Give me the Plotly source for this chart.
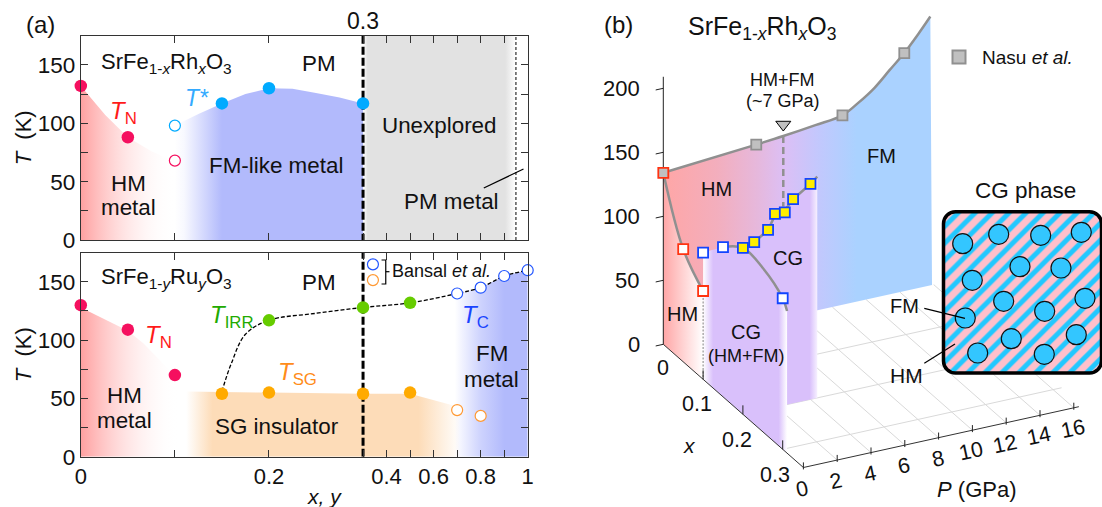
import plotly.graph_objects as go

W, H = 1102, 507
FONT = "Liberation Sans"

# ---------- panel (a) data ----------
rh_tn_x = [0, 0.05]; rh_tn_t = [132, 88]
rh_tn_open_x = [0.1]; rh_tn_open_t = [68]
rh_ts_open_x = [0.1]; rh_ts_open_t = [98]
rh_ts_x = [0.15, 0.2, 0.3]; rh_ts_t = [117, 130, 117]
rh_hm_x = [0, 0.026, 0.05, 0.075, 0.1]; rh_hm_t = [132, 107, 88, 76, 67]
rh_fm_x = [0.1, 0.125, 0.15, 0.175, 0.2, 0.225, 0.25, 0.275, 0.3]
rh_fm_t = [98, 108, 117, 125, 130, 129.5, 126, 122, 117]

ru_tn_x = [0, 0.05, 0.1]; ru_tn_t = [130, 109, 70]
ru_hm_x = [0, 0.05, 0.067, 0.097, 0.112]; ru_hm_t = [128, 108, 97, 72, 56]
ru_sg_x = [0.112, 0.2, 0.3, 0.5, 0.535, 0.7, 0.75]; ru_sg_t = [56, 55, 54, 54, 52, 43, 40]
ru_fm_x = [0.69, 0.7, 0.8, 0.85, 0.9, 1.0]; ru_fm_t = [139, 140, 145, 150, 155, 160]
ru_irr_x = [0.2, 0.3, 0.5]; ru_irr_t = [117, 128, 132]
ru_tsg_x = [0.15, 0.2, 0.3, 0.5]; ru_tsg_t = [54, 55, 54, 55]
ru_tsg_open_x = [0.7, 0.8]; ru_tsg_open_t = [40, 35]
ru_tc_x = [0.7, 0.8, 0.9, 1.0]; ru_tc_t = [140, 145, 155, 160]
bansal_x = [0.342, 0.342]; bansal_t = [165, 151.5]
ru_dash_x = [0.15, 0.16, 0.175, 0.2, 0.25, 0.3, 0.5, 0.7, 0.8, 0.85, 0.9, 1.0]
ru_dash_t = [56, 80, 105, 117, 123, 128, 132, 140, 145, 150, 155, 160]

x_ticks = [0, 0.1, 0.2, 0.3, 0.4, 0.5, 0.6, 0.7, 0.8, 0.9, 1.0]
x_labels = ["0", "", "0.2", "", "0.4", "", "0.6", "", "0.8", "", "1"]
t_ticks = [0, 25, 50, 75, 100, 125, 150, 175]
t_labels = ["0", "", "50", "", "100", "", "150", ""]

# ---------- panel (b) data ----------
nasu_p = [5.5, 10.6, 14.26]; nasu_t = [140, 148, 186]
top_p = [0, 5.5, 7.1, 9, 10.6, 11.5, 12.5, 13.4, 14.26, 15.05, 15.8]
top_t = [134, 140, 142, 145, 148, 154.7, 164, 175.3, 186, 197.8, 210]
hm_x = [0, 0.05, 0.1]; hm_t = [134, 88, 69]
cg_x = [0.1, 0.15, 0.2, 0.3]; cg_t = [99, 117, 130, 118]
cg_edge_x = [0.1, 0.15, 0.2, 0.25, 0.3, 0.311]; cg_edge_t = [99, 117, 130, 128, 118, 111]
y_p = [0, 0.67, 1.49, 1.9, 2.48, 2.97, 4.0]; y_t = [130, 132.5, 139.7, 151, 150.5, 159.4, 168.3]
y_edge_p = [0, 0.67, 1.49, 1.9, 2.48, 2.97, 4.0, 4.4]; y_edge_t = [130, 132.5, 139.7, 150, 152, 159.4, 168.3, 172.8]
p_ticks = [0, 2, 4, 6, 8, 10, 12, 14, 16]
xb_ticks = [0, 0.1, 0.2, 0.3]
tb_ticks = [0, 50, 100, 150, 200]
cells_x = [962.7, 998.7, 1040.7, 1081.3, 1020, 1061, 972.3, 1003.7, 1085, 1044.7, 965.3, 1076.3, 1011.3, 977.7, 1044.3]
cells_y = [243.7, 234.3, 235.3, 232.3, 266.7, 268, 280.3, 301.3, 298.3, 311.3, 318, 334.7, 338.7, 353, 354.3]


def p(x):
    """Position on the broken composition axis: 0.3-1 is compressed four times."""
    return x if x <= 0.3 else 0.3 + (x - 0.3) / 4


def P(v):
    return [p(a) for a in v]


def XA(v):
    return v * 1.054


def px(Pv, x):
    return 663.3 + Pv * 16.9 + x * 398


def py(Pv, x, T):
    return 344.3 - Pv * 3.73 + x * 350 - T * 1.28


fig = go.Figure()
A = dict(xaxis="x", yaxis="y")
B = dict(xaxis="x2", yaxis="y2")
C = dict(xaxis="x3", yaxis="y3")
D = dict(xaxis="x4", yaxis="y4")


def grad(stops):
    return dict(type="horizontal", colorscale=stops)


def fill(xs, ys, stops, ax):
    fig.add_trace(go.Scatter(x=xs, y=ys, mode="none", fill="toself", hoverinfo="skip",
                             fillgradient=grad(stops), showlegend=False, **ax))


def line(xs, ys, ax, color="#000", width=1, dash=None, shape="linear", clip=True):
    fig.add_trace(go.Scatter(x=xs, y=ys, mode="lines", showlegend=False, hoverinfo="skip",
                             line=dict(color=color, width=width, dash=dash, shape=shape),
                             cliponaxis=clip, **ax))


def pts(xs, ys, ax, color, lc=None, size=12.5, lw=0, sym="circle"):
    fig.add_trace(go.Scatter(x=xs, y=ys, mode="markers", showlegend=False, cliponaxis=False,
                             marker=dict(size=size, color=color, symbol=sym,
                                         line=dict(color=lc or color, width=lw)), **ax))


RED0 = "rgba(255,160,160,1)"
BLUE = "rgba(178,186,252,1)"
BLUE0 = "rgba(178,186,252,0)"
GRAY = "rgba(226,226,226,1)"
GRAY0 = "rgba(226,226,226,0)"
ORG = "rgba(253,220,184,1)"
ORG0 = "rgba(253,220,184,0)"
PINK = "#f5105f"
SKY = "#00aaff"
GREEN = "#66cc00"
AMBER = "#ffaa00"
BL = "#2255ff"
OR2 = "#ff9933"

# --- top panel
fill(rh_hm_x + [0.1, 0], rh_hm_t + [0, 0],
     [[0, RED0], [1, "rgba(255,255,255,0)"]], A)
fill(P(rh_fm_x) + [0.3, 0.1], rh_fm_t + [0, 0],
     [[0, BLUE0], [0.05, "rgba(178,186,252,.1)"], [0.25, BLUE], [1, BLUE]], A)
fill([0.3, p(0.95), p(0.95), 0.3], [0, 0, 175, 175],
     [[0, GRAY0], [0.03, GRAY], [0.93, GRAY], [1, GRAY0]], A)
line([p(0.95), p(0.95)], [0, 175], A, width=1, dash="3px,2px")
line([0.3, 0.3], [-11, 175], A, width=3, dash="8px,3px", clip=False)
pts(rh_tn_x, rh_tn_t, A, PINK)
pts(rh_tn_open_x, rh_tn_open_t, A, "white", PINK, 11, 1.2)
pts(rh_ts_open_x, rh_ts_open_t, A, "white", SKY, 11, 1.2)
pts(rh_ts_x, rh_ts_t, A, SKY)

# --- bottom panel
fill(ru_hm_x + [0.112, 0], ru_hm_t + [0, 0],
     [[0, RED0], [0.93, "rgba(255,255,255,0)"], [1, "rgba(255,255,255,0)"]], B)
fill(P(ru_sg_x) + [p(0.75), 0.112], ru_sg_t + [0, 0],
     [[0, ORG0], [0.093, ORG], [0.822, ORG], [0.97, ORG0], [1, ORG0]], B)
fill(P(ru_fm_x) + [p(1.0), p(0.69)], ru_fm_t + [0, 0],
     [[0, BLUE0], [0.36, "rgba(178,186,252,.65)"], [0.68, BLUE], [1, BLUE]], B)
line(P(ru_dash_x), ru_dash_t, B, width=1.3, dash="4px,2px", shape="spline")
line([0.3, 0.3], [0, 175], B, width=3, dash="8px,3px", clip=False)
pts(ru_tn_x, ru_tn_t, B, PINK)
pts(P(ru_irr_x), ru_irr_t, B, GREEN)
pts(P(ru_tsg_x), ru_tsg_t, B, AMBER)
pts(P(ru_tsg_open_x), ru_tsg_open_t, B, "white", OR2, 11, 1.2)
pts(P(ru_tc_x), ru_tc_t, B, "white", BL, 11, 1.2)
pts(P(bansal_x), bansal_t, B, ["white", "white"], None, 11, 1.2)
fig.data[-1].marker.line.color = [BL, OR2]

# --- panel (b): floor grid
GRID = "#d9d9d9"
for v in p_ticks[1:]:
    line([px(v, 0), px(v, 0.352)], [py(v, 0, 0), py(v, 0.352, 0)], C, GRID, 1)
for v in [0.1, 0.2, 0.3]:
    line([px(0, v), px(16.5, v)], [py(0, v, 0), py(16.5, v, 0)], C, GRID, 1)

# wall at x = 0
wx = [px(a, 0) for a in top_p]
wy = [py(a, 0, t) for a, t in zip(top_p, top_t)]
fill(wx + [px(15.9, 0), px(0, 0)], wy + [py(15.9, 0, 0), py(0, 0, 0)],
     [[0, "#ffa6a6"], [0.2, "#f3aebd"], [0.35, "#e6b8dc"], [0.45, "#dcbff5"],
      [0.58, "#c2c8fd"], [0.72, "#aad2ff"], [1, "#aad2ff"]], C)
line(wx, wy, C, "#909090", 2.5, shape="spline")
line([px(7.1, 0), px(7.1, 0)], [py(7.1, 0, 142), py(7.1, 0, 87)], C, "#909090", 2.5, dash="7px,4px")

# wall at x = 0.2
yx = [px(a, 0.2) for a in y_edge_p]
yy = [py(a, 0.2, t) for a, t in zip(y_edge_p, y_edge_t)]
fill(yx + [px(4.4, 0.2), px(0, 0.2)], yy + [py(4.4, 0.2, 0), py(0, 0.2, 0)],
     [[0, "#d9c0fb"], [0.9, "#d9c0fb"], [1, "#f6f0ff"]], C)
line(yx, yy, C, "#909090", 2.5)

# wall at P = 0
hx = [px(0, a) for a in [0, 0.05, 0.1]]
hy = [py(0, a, t) for a, t in zip([0, 0.05, 0.1], hm_t)]
fill(hx + [px(0, 0.1), px(0, 0)], hy + [py(0, 0.1, 0), py(0, 0, 0)],
     [[0, "#ffa6a6"], [1, "#ffffff"]], C)
cx = [px(0, a) for a in cg_edge_x]
cy = [py(0, a, t) for a, t in zip(cg_edge_x, cg_edge_t)]
fill(cx + [px(0, 0.311), px(0, 0.1)], cy + [py(0, 0.311, 0), py(0, 0.1, 0)],
     [[0, "#ffffff"], [0.12, "#d9c0fb"], [0.9, "#d9c0fb"], [1, "#ffffff"]], C)
line(hx, hy, C, "#909090", 2.5, shape="spline")
line(cx[1:], cy[1:], C, "#909090", 2.5, shape="spline")
line([px(0, 0.1)] * 2, [py(0, 0.1, 69), py(0, 0.1, 0)], C, "#808080", 1, dash="2px,1.5px")

# axes of the box
line([px(0, 0), px(0, 0)], [py(0, 0, 0), py(0, 0, 209)], C, "#222", 1)
line([px(0, 0), px(0, 0.352)], [py(0, 0, 0), py(0, 0.352, 0)], C, "#333", 1)
line([px(0, 0.352), px(16.3, 0.352)], [py(0, 0.352, 0), py(16.3, 0.352, 0)], C, "#333", 1)
for v in tb_ticks:
    line([px(-0.45, 0), px(0, 0)], [py(-0.45, 0, v), py(0, 0, v)], C, "#222", 1)
for v in xb_ticks[1:]:
    line([px(0, v)] * 2, [py(0, v, 0), py(0, v, 7)], C, "#222", 1)
for v in p_ticks:
    line([px(v, 0.352)] * 2, [py(v, 0.352, -1.5), py(v, 0.352, 4)], C, "#222", 1)

# squares
SQ = dict(sym="square", size=10, lw=1.8)
pts([px(a, 0) for a in nasu_p], [py(a, 0, t) for a, t in zip(nasu_p, nasu_t)], C, "#c0c0c0", "#909090", **SQ)
pts([px(0, 0)], [py(0, 0, 134)], C, "#c0c0c0", "#ff3311", **SQ)
pts([px(0, 0.05), px(0, 0.1)], [py(0, 0.05, 88), py(0, 0.1, 69)], C, "white", "#ff3311", **SQ)
pts([px(0, 0.1), px(0, 0.15), px(0, 0.3)],
    [py(0, 0.1, 99), py(0, 0.15, 117), py(0, 0.3, 118)], C, "white", "#1144ff", **SQ)
pts([px(a, 0.2) for a in y_p], [py(a, 0.2, t) for a, t in zip(y_p, y_t)], C, "#ffee00", "#1144ff", **SQ)
pts([px(7.1, 0)], [py(7.1, 0, 151)], C, "#c0c0c0", "#000", size=13, lw=1, sym="triangle-down")
pts([959], [57], C, "#c0c0c0", "#909090", size=13, lw=2, sym="square")

# inset (on its own overlay so the floor grid stays behind it)
fig.add_trace(go.Bar(x=[1022.5], y=[161.3], base=[211.7], width=[158], showlegend=False, cliponaxis=False,
                     marker=dict(color="#ffc0cb", line=dict(color="#000", width=3.5),
                                 pattern=dict(shape="/", size=12, solidity=0.42, fgopacity=1,
                                              fgcolor="#22c8ff", bgcolor="#ffc0cb")), **D))
pts(cells_x, cells_y, D, "#33c6ff", "#111", size=20, lw=1.2)
line([924.3, 965], [308.3, 318.3], D, "#000", 1.2)
line([924.3, 955], [363.3, 344], D, "#000", 1.2)

# small leader lines of panel (a)
line([XA(459), XA(496.7)], [188, 169], C, "#000", 1.2)
line([XA(362), XA(366), XA(366), XA(362)], [260, 260, 284, 284], C, "#000", 1.2)
line([XA(366), XA(369.5)], [271.7, 271.7], C, "#000", 1.2)


# ---------- layout ----------
def yax(domain):
    return dict(domain=domain, range=[0, 175], tickmode="array", tickvals=t_ticks, ticktext=t_labels,
                ticks="inside", ticklen=7, tickcolor="#333", showline=True, mirror="ticks",
                linecolor="#333", linewidth=1, showgrid=False, zeroline=False,
                tickfont=dict(size=22.5, color="#111"), fixedrange=True, automargin=False,
                title=dict(text="<i>T</i>  (K)", font=dict(size=22, color="#111"), standoff=0))


def xax(anchor, labels):
    return dict(domain=[80.8 / W, 527.7 / W], range=[0, 0.475], anchor=anchor, tickmode="array",
                tickvals=P(x_ticks), ticktext=labels, ticks="inside", ticklen=7, tickcolor="#333",
                showline=True, mirror="ticks", linecolor="#333", linewidth=1, showgrid=False,
                zeroline=False, tickfont=dict(size=22, color="#111"), fixedrange=True, automargin=False)


layout = dict(
    width=W, height=H, margin=dict(l=0, r=0, t=0, b=0, autoexpand=False),
    plot_bgcolor="rgba(0,0,0,0)", paper_bgcolor="white",
    font=dict(family=FONT, size=21, color="#111"), showlegend=False, barcornerradius=12,
    xaxis=xax("y", [""] * len(x_ticks)),
    yaxis=yax([1 - 240 / H, 1 - 35.7 / H]),
    xaxis2=xax("y2", x_labels),
    yaxis2=yax([1 - 456.7 / H, 1 - 252.7 / H]),
    xaxis3=dict(domain=[0, 1], range=[0, W], visible=False, fixedrange=True, anchor="y3"),
    yaxis3=dict(domain=[0, 1], range=[H, 0], visible=False, fixedrange=True, anchor="x3"),
    xaxis4=dict(domain=[0, 1], range=[0, W], visible=False, fixedrange=True, anchor="y4"),
    yaxis4=dict(domain=[0, 1], range=[H, 0], visible=False, fixedrange=True, anchor="x4"),
)
layout["yaxis"]["anchor"] = "x"
layout["yaxis2"]["anchor"] = "x2"
fig.update_layout(**layout)


def note(x, y, text, size=21, color="#111", angle=0):
    fig.add_annotation(x=x, y=y, xref="x3", yref="y3", text=text, showarrow=False,
                       font=dict(size=size, color=color, family=FONT), textangle=angle,
                       xanchor="center", yanchor="middle")


def noteA(x, y, text, size=22.4, color="#111"):
    note(XA(x), y, text, size, color)


RH = "SrFe<sub>1-<i>x</i></sub>Rh<sub><i>x</i></sub>O<sub>3</sub>"
RU = "SrFe<sub>1-<i>y</i></sub>Ru<sub><i>y</i></sub>O<sub>3</sub>"
noteA(38, 24, "(a)", 24)
noteA(344, 20.7, "0.3", 23)
noteA(158, 63, RH, 22)
noteA(303, 63, "PM")
noteA(117, 112, "<i>T</i><sub>N</sub>", 24, "#ff1a1a")
noteA(187, 98, "<i>T*</i>", 23, "#33aaff")
noteA(417, 125.7, "Unexplored")
noteA(261.7, 165, "FM-like metal")
noteA(121.7, 183, "HM")
noteA(121.7, 207, "metal")
noteA(428, 201.7, "PM metal")
noteA(158, 278, RU, 22)
noteA(303, 282.7, "PM")
noteA(150, 336, "<i>T</i><sub>N</sub>", 24, "#ff1a1a")
noteA(220, 316.7, "<i>T</i><sub>IRR</sub>", 24, "#22aa00")
noteA(282.7, 373, "<i>T</i><sub>SG</sub>", 24, "#ff8c1a")
noteA(451, 316.7, "<i>T</i><sub>C</sub>", 24, "#1a44ff")
noteA(118, 395, "HM")
noteA(118, 420, "metal")
noteA(263, 426.7, "SG insulator")
noteA(466.7, 353, "FM")
noteA(466.7, 379, "metal")
noteA(419.3, 270.7, "Bansal <i>et al.</i>", 18)
noteA(308, 496, "<i>x, y</i>", 21)

note(618, 24, "(b)", 24)
note(761.7, 28, RH, 25)
note(782.7, 80, "HM+FM", 18)
note(782.7, 101, "(~7 GPa)", 18)
note(881.7, 155.7, "FM", 20)
note(716.7, 189, "HM", 20)
note(788, 258, "CG", 20)
note(682, 314, "HM", 20)
note(745.7, 331.7, "CG", 20)
note(745.7, 356, "(HM+FM)", 18)
note(1025, 190.7, "CG phase", 22.5)
note(904.3, 306, "FM", 20)
note(906, 375, "HM", 21)
note(1027.5, 57.5, "Nasu <i>et al.</i>", 19)
for v in tb_ticks:
    note(px(0, 0) - (42 if v >= 100 else 36 if v else 29.8), py(0, 0, v) + 0.5, str(v), 22)
for v, dx, dy in zip(xb_ticks, [0, -6.5, -5.5, -7.4], [23.5, 25, 26, 26]):
    note(px(0, v) + dx, py(0, v, 0) + dy, f"{v:g}", 21.5)
for v in p_ticks:
    note(px(v, 0.352) - 1, py(v, 0.352, 0) + 21, str(v), 21.5, angle=-12)
note(689, 445, "<i>x</i>", 21)
note(976.7, 489, "<i>P</i> (GPa)", 22)

fig.write_html("out.html", config=dict(displayModeBar=False), post_script="document.body.style.margin='0';")
